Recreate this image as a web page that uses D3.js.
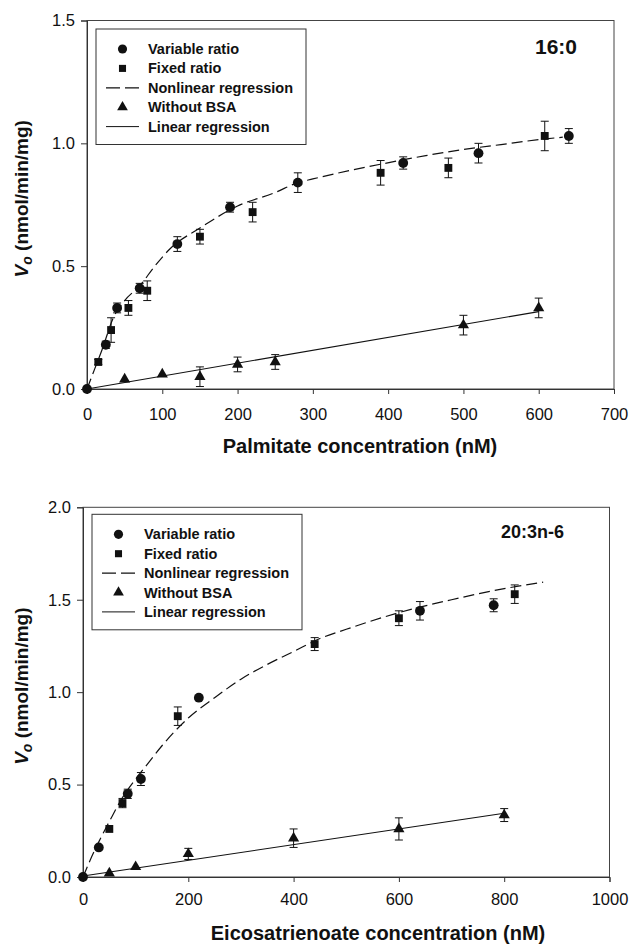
<!DOCTYPE html>
<html>
<head>
<meta charset="utf-8">
<script src="https://cdn.jsdelivr.net/npm/d3@7"></script>
<style>
  html, body { margin: 0; padding: 0; background: #fff; }
  svg { display: block; }
  text { font-family: "Liberation Sans", Arial, Helvetica, sans-serif; fill: #111; }
</style>
</head>
<body>
<svg id="chart" width="631" height="945"></svg>
<script>
// ---------- DATA ----------
// Panel A: 16:0 (palmitate)   [concentration nM, Vo, error]
const palmVariable = [[0,0,0],[25,0.18,0.015],[40,0.33,0.02],[70,0.41,0.02],[120,0.59,0.03],[190,0.74,0.02],[280,0.84,0.04],[420,0.92,0.025],[520,0.96,0.04],[640,1.03,0.03]];
const palmFixed    = [[15,0.11,0.01],[32,0.24,0.05],[55,0.33,0.03],[80,0.40,0.04],[150,0.62,0.03],[220,0.72,0.04],[390,0.88,0.05],[480,0.90,0.04],[608,1.03,0.06]];
const palmNoBSA    = [[50,0.04,0],[100,0.06,0],[150,0.05,0.04],[200,0.10,0.03],[250,0.11,0.03],[500,0.26,0.04],[600,0.33,0.04]];
const palmNonlinear = [[0,0],[10,0.08],[20,0.16],[35,0.29],[50,0.36],[70,0.42],[90,0.50],[110,0.57],[150,0.655],[200,0.745],[250,0.80],[280,0.84],[300,0.855],[350,0.89],[390,0.915],[450,0.95],[500,0.975],[550,0.995],[600,1.015],[632,1.025]];
const palmLinear   = [[0,0],[600,0.315]];
const palmXTicks = [0,100,200,300,400,500,600,700];
const palmYTicks = [0,0.5,1.0,1.5];

// Panel B: 20:3n-6 (eicosatrienoate)
const eicoVariable = [[0,0,0],[30,0.16,0],[85,0.45,0.025],[110,0.53,0.035],[220,0.97,0],[640,1.44,0.05],[780,1.47,0.035]];
const eicoFixed    = [[50,0.26,0],[75,0.40,0.025],[180,0.87,0.05],[440,1.26,0.035],[600,1.40,0.04],[820,1.53,0.05]];
const eicoNoBSA    = [[50,0.02,0],[100,0.055,0],[200,0.125,0.03],[400,0.21,0.05],[600,0.26,0.06],[800,0.335,0.035]];
const eicoNonlinear = [[0,0],[15,0.10],[30,0.19],[50,0.30],[75,0.43],[100,0.53],[125,0.62],[150,0.71],[200,0.86],[250,0.97],[300,1.07],[350,1.15],[400,1.22],[450,1.29],[500,1.34],[600,1.43],[700,1.50],[800,1.56],[874,1.595]];
const eicoLinear   = [[0,0.005],[800,0.345]];
const eicoXTicks = [0,200,400,600,800,1000];
const eicoYTicks = [0,0.5,1.0,1.5,2.0];

const legendLabels = ["Variable ratio","Fixed ratio","Nonlinear regression","Without BSA","Linear regression"];

// ---------- DRAWING ----------
const svg = d3.select("#chart");
const INK = "#111";

function drawPanel(cfg) {
  const x = d3.scaleLinear().domain(cfg.xDomain).range([cfg.left, cfg.right]);
  const y = d3.scaleLinear().domain(cfg.yDomain).range([cfg.bottom, cfg.top]);
  const g = svg.append("g");

  // frame
  g.append("rect").attr("x", cfg.left).attr("y", cfg.top)
    .attr("width", cfg.right - cfg.left).attr("height", cfg.bottom - cfg.top)
    .attr("fill", "none").attr("stroke", "#444").attr("stroke-width", 1);

  // axes
  const xAxis = d3.axisBottom(x).tickValues(cfg.xTicks).tickSize(5).tickPadding(cfg.xPad).tickFormat(d3.format("d"));
  const yAxis = d3.axisLeft(y).tickValues(cfg.yTicks).tickSize(6).tickPadding(6).tickFormat(d3.format(".1f"));
  const gx = g.append("g").attr("transform", `translate(0,${cfg.bottom})`).call(xAxis);
  const gy = g.append("g").attr("transform", `translate(${cfg.left},0)`).call(yAxis);
  [gx, gy].forEach(a => {
    a.select(".domain").attr("stroke", "#333");
    a.selectAll(".tick line").attr("stroke", "#333");
    a.selectAll(".tick text").attr("font-size", 16.5).attr("fill", INK)
      .attr("font-family", '"Liberation Sans", Arial, sans-serif');
  });

  // regression lines
  g.append("path").datum(cfg.nonlinear)
    .attr("d", d3.line().x(d => x(d[0])).y(d => y(d[1])).curve(d3.curveMonotoneX))
    .attr("fill", "none").attr("stroke", INK).attr("stroke-width", 1.2).attr("stroke-dasharray", "11,5");
  g.append("path").datum(cfg.linear)
    .attr("d", d3.line().x(d => x(d[0])).y(d => y(d[1])))
    .attr("fill", "none").attr("stroke", INK).attr("stroke-width", 1.1);

  // error bars
  const allPts = [].concat(cfg.noBSA, cfg.fixed, cfg.variable).filter(d => d[2] > 0);
  const eb = g.append("g").attr("stroke", INK).attr("stroke-width", 1);
  eb.selectAll("line.v").data(allPts).join("line")
    .attr("x1", d => x(d[0])).attr("x2", d => x(d[0]))
    .attr("y1", d => y(d[1] - d[2])).attr("y2", d => y(d[1] + d[2]));
  eb.selectAll("line.t").data(allPts).join("line").attr("class", "t")
    .attr("x1", d => x(d[0]) - 4).attr("x2", d => x(d[0]) + 4)
    .attr("y1", d => y(d[1] + d[2])).attr("y2", d => y(d[1] + d[2]));
  eb.selectAll("line.b").data(allPts).join("line").attr("class", "b")
    .attr("x1", d => x(d[0]) - 4).attr("x2", d => x(d[0]) + 4)
    .attr("y1", d => y(d[1] - d[2])).attr("y2", d => y(d[1] - d[2]));

  // markers
  const tri = d3.symbol().type(d3.symbolTriangle).size(54);
  const sq = d3.symbol().type(d3.symbolSquare).size(62);
  const circ = d3.symbol().type(d3.symbolCircle).size(76);
  g.append("g").selectAll("path").data(cfg.noBSA).join("path")
    .attr("d", tri).attr("transform", d => `translate(${x(d[0])},${y(d[1])})`).attr("fill", INK);
  g.append("g").selectAll("path").data(cfg.fixed).join("path")
    .attr("d", sq).attr("transform", d => `translate(${x(d[0])},${y(d[1])})`).attr("fill", INK);
  g.append("g").selectAll("path").data(cfg.variable).join("path")
    .attr("d", circ).attr("transform", d => `translate(${x(d[0])},${y(d[1])})`).attr("fill", INK);

  // legend
  const lx = cfg.left + 9, ly = cfg.top + cfg.legTop;
  const lg = g.append("g");
  lg.append("rect").attr("x", lx).attr("y", ly).attr("width", 210).attr("height", 115.5)
    .attr("fill", "#fff").attr("stroke", "#333").attr("stroke-width", 1);
  legendLabels.forEach((lab, i) => {
    const cy = ly + 20 + i * 19.4;
    const sx = lx + 26.5;
    if (i === 0) lg.append("path").attr("d", d3.symbol().type(d3.symbolCircle).size(66)).attr("transform", `translate(${sx},${cy})`).attr("fill", INK);
    if (i === 1) lg.append("path").attr("d", d3.symbol().type(d3.symbolSquare).size(50)).attr("transform", `translate(${sx},${cy})`).attr("fill", INK);
    if (i === 3) lg.append("path").attr("d", d3.symbol().type(d3.symbolTriangle).size(50)).attr("transform", `translate(${sx},${cy})`).attr("fill", INK);
    if (i === 2) lg.append("line").attr("x1", sx - 16.5).attr("x2", sx + 16.5).attr("y1", cy).attr("y2", cy)
      .attr("stroke", INK).attr("stroke-width", 1.2).attr("stroke-dasharray", "14,5");
    if (i === 4) lg.append("line").attr("x1", sx - 16.5).attr("x2", sx + 16.5).attr("y1", cy).attr("y2", cy)
      .attr("stroke", INK).attr("stroke-width", 1);
    lg.append("text").attr("x", lx + 52).attr("y", cy + 5).attr("font-size", 14.5).attr("font-weight", "bold").text(lab);
  });

  // panel title
  g.append("text").attr("x", cfg.titleX).attr("y", cfg.titleY).attr("text-anchor", "end")
    .attr("font-size", cfg.titleSize).attr("font-weight", "bold").text(cfg.title);

  // axis titles
  g.append("text").attr("x", cfg.xLabelX).attr("y", cfg.xLabelY).attr("text-anchor", "middle")
    .attr("font-size", 20).attr("font-weight", "bold").text(cfg.xLabel);
  const yl = g.append("text").attr("transform", `translate(28,${(cfg.top + cfg.bottom) / 2 - 6}) rotate(-90)`)
    .attr("text-anchor", "middle").attr("font-size", 19).attr("font-weight", "bold");
  yl.append("tspan").attr("font-style", "italic").text("V");
  yl.append("tspan").attr("font-style", "italic").attr("font-size", 14).attr("dy", 4).text("o");
  yl.append("tspan").attr("dy", -4).text(" (nmol/min/mg)");
}

drawPanel({
  left: 87, right: 614, top: 20.5, bottom: 389,
  xDomain: [0, 700], yDomain: [0, 1.5], xTicks: palmXTicks, yTicks: palmYTicks, xPad: 14,
  variable: palmVariable, fixed: palmFixed, noBSA: palmNoBSA, nonlinear: palmNonlinear, linear: palmLinear,
  legTop: 8.5, title: "16:0", titleX: 577, titleY: 54, titleSize: 21,
  xLabel: "Palmitate concentration (nM)", xLabelX: 360, xLabelY: 453
});
drawPanel({
  left: 83, right: 609.5, top: 507.3, bottom: 877,
  xDomain: [0, 1000], yDomain: [0, 2.0], xTicks: eicoXTicks, yTicks: eicoYTicks, xPad: 11,
  variable: eicoVariable, fixed: eicoFixed, noBSA: eicoNoBSA, nonlinear: eicoNonlinear, linear: eicoLinear,
  legTop: 7, title: "20:3n-6", titleX: 564, titleY: 538, titleSize: 18,
  xLabel: "Eicosatrienoate concentration (nM)", xLabelX: 378, xLabelY: 940
});
</script>
</body>
</html>
